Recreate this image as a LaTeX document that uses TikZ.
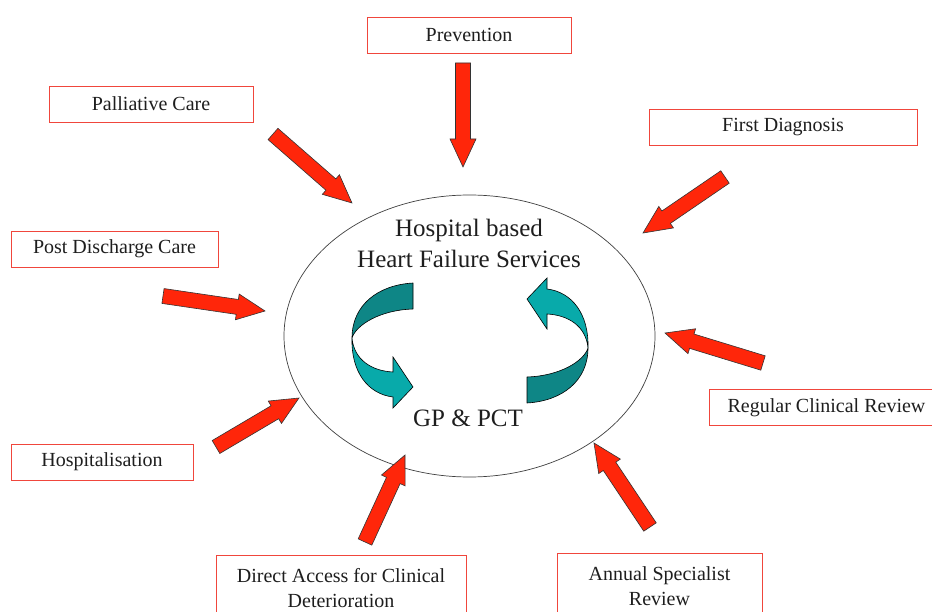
\documentclass[tikz,border=0pt]{standalone}
\usepackage{fontspec}
\setmainfont{Liberation Serif}
\usetikzlibrary{calc,shapes.geometric}

\definecolor{boxred}{RGB}{240,70,60}
\definecolor{arrowred}{RGB}{255,38,10}
\definecolor{tealdark}{RGB}{14,134,134}
\definecolor{teallight}{RGB}{8,170,170}
\definecolor{inkgray}{RGB}{30,30,30}

\tikzset{
  labelbox/.style={draw=boxred, line width=0.9pt, fill=white, minimum height=36pt,
    inner sep=0pt, text=inkgray, font=\fontsize{20}{25}\selectfont, align=center},
  hubtext/.style={text=inkgray, font=\fontsize{25}{31}\selectfont, align=center, inner sep=0pt},
  redblock/.style={fill=arrowred, draw=black!80, line width=0.6pt, line join=miter},
  ribbondark/.style={fill=tealdark, draw=black, line width=0.6pt, line join=round},
  ribbonlight/.style={fill=teallight, draw=black, line width=0.6pt, line join=miter},
}

% Block arrow from coordinate #1 (tail) to coordinate #2 (tip)
\newcommand\redarrow[2]{%
  \path let \p1=($(#2)-(#1)$) in \pgfextra{%
    \pgfmathsetmacro\ArAngle{atan2(\y1,\x1)}%
    \pgfmathsetmacro\ArLength{veclen(\x1,\y1)}%
    \pgfmathsetmacro\ArBackPos{\ArLength-28}%
    \xdef\ArAng{\ArAngle}\xdef\ArLen{\ArLength}\xdef\ArBack{\ArBackPos}};
  \draw[redblock, shift={(#1)}, rotate=\ArAng]
    (0pt,-7.5pt) -- (\ArBack pt,-7.5pt) -- (\ArBack pt,-13pt) -- (\ArLen pt,0pt)
    -- (\ArBack pt,13pt) -- (\ArBack pt,7.5pt) -- (0pt,7.5pt) -- cycle;
}

% One half of the circulating ribbon arrow
\newcommand\ribbonarrow{%
  \draw[ribbondark] (413,283) .. controls (378,285) and (352,305) .. (352,338)
    .. controls (356,325) and (380,310) .. (413,309) -- cycle;
  \draw[ribbonlight] (352,338) .. controls (354,360) and (372,371) .. (393,372)
    -- (393,357) -- (413,387) -- (393,408) -- (393,397)
    .. controls (368,394) and (351,372) .. (352,338) -- cycle;
}

\begin{document}
\begin{tikzpicture}[x=1pt, y=-1pt]
  \useasboundingbox (0,0) rectangle (932,612);
  \fill[white] (0,0) rectangle (932,612);
  \clip (0,0) rectangle (932,612);

  % central ellipse
  \node[draw=black!75, line width=0.7pt, ellipse, minimum width=371pt, minimum height=282pt,
        inner sep=0pt] (hub) at (469.5,336) {};
  \node[hubtext] (hubtitle) at (469,243) {Hospital based\\Heart Failure Services};
  \node[hubtext] (gp) at (468,418) {GP \& PCT};

  % circulating arrows
  \begin{scope}\ribbonarrow\end{scope}
  \begin{scope}[rotate around={180:(470,343)}]\ribbonarrow\end{scope}

  % surrounding services
  \node[labelbox, minimum width=204pt] (prev) at (469,35) {Prevention};
  \node[labelbox, minimum width=204pt] (pall) at (151,104) {Palliative Care};
  \node[labelbox, minimum width=268pt] (diag) at (783,127) {First Diagnosis};
  \node[labelbox, minimum width=207pt] (post) at (114.5,249) {Post Discharge Care};
  \node[labelbox, minimum width=235pt] (regu) at (826.5,407.5) {Regular Clinical Review};
  \node[labelbox, minimum width=182pt] (hosp) at (102,462) {Hospitalisation};
  \node[labelbox, minimum width=250pt, minimum height=66pt] (dire) at (341,588)
       {Direct Access for Clinical\\Deterioration};
  \node[labelbox, minimum width=205pt, minimum height=66pt] (annu) at (659.5,586)
       {Annual Specialist\\Review};

  % arrow ends
  \coordinate (prevT) at (463,63);   \coordinate (prevH) at (463,167);
  \coordinate (pallT) at (273,134);  \coordinate (pallH) at (352,203);
  \coordinate (diagT) at (725,177);  \coordinate (diagH) at (643,233);
  \coordinate (postT) at (163,296);  \coordinate (postH) at (265,311);
  \coordinate (reguT) at (763,363);  \coordinate (reguH) at (665,333);
  \coordinate (hospT) at (216,447);  \coordinate (hospH) at (299,398);
  \coordinate (direT) at (365,542);  \coordinate (direH) at (405,455);
  \coordinate (annuT) at (650,527);  \coordinate (annuH) at (594,443);

  \redarrow{prevT}{prevH}
  \redarrow{pallT}{pallH}
  \redarrow{diagT}{diagH}
  \redarrow{postT}{postH}
  \redarrow{reguT}{reguH}
  \redarrow{hospT}{hospH}
  \redarrow{direT}{direH}
  \redarrow{annuT}{annuH}
\end{tikzpicture}
\end{document}
